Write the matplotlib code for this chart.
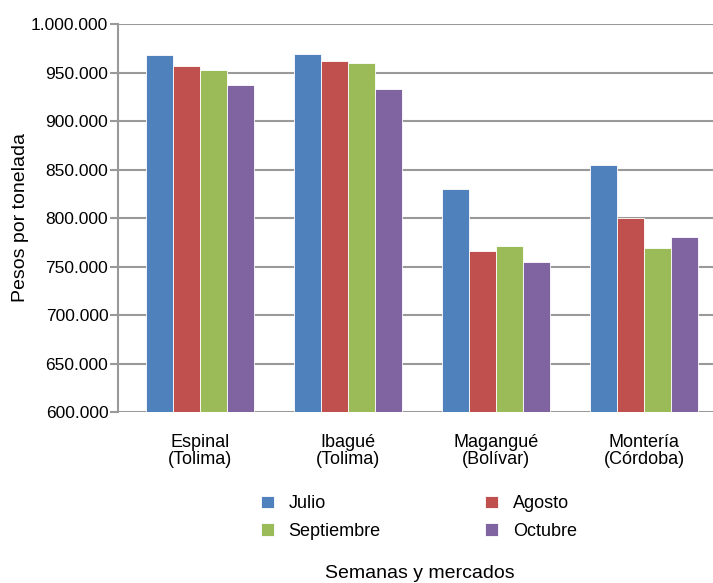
import matplotlib.pyplot as plt
import numpy as np

plt.rcParams['font.family'] = ['Liberation Sans', 'DejaVu Sans']

mercados = ["Espinal\n(Tolima)", "Ibagué\n(Tolima)", "Magangué\n(Bolívar)", "Montería\n(Córdoba)"]
meses = ["Julio", "Agosto", "Septiembre", "Octubre"]
julio = [968000, 969000, 830000, 855000]
agosto = [957000, 962000, 766000, 800000]
septiembre = [953000, 960000, 771000, 769000]
octubre = [937000, 933000, 755000, 780000]
yticks = [600000, 650000, 700000, 750000, 800000, 850000, 900000, 950000, 1000000]

colores = ["#4F81BD", "#C0504D", "#9BBB59", "#8064A2"]
series = [julio, agosto, septiembre, octubre]

fig = plt.figure(figsize=(7.13, 5.83), dpi=100)
ax = fig.add_axes([118 / 713, 171 / 583, 600 / 713, 388 / 583])

x = np.arange(len(mercados))
w = 0.181
barras = []
for i, (vals, mes, c) in enumerate(zip(series, meses, colores)):
    b = ax.bar(x + (i - 1.5) * w, vals, w, color=c, label=mes,
               edgecolor="white", linewidth=0.6, zorder=3)
    barras.append(b)

ax.set_ylim(600000, 1000000)
ax.set_xlim(-0.554, 3.5)
ax.set_yticks(yticks)
ax.set_yticklabels([f"{v:,}".replace(",", ".") for v in yticks], fontsize=12.5)
ax.set_xticks(x)
ax.set_xticklabels(mercados, fontsize=13, linespacing=1.0)
ax.tick_params(axis="x", length=0, pad=16)
ax.tick_params(axis="y", length=6, width=1.5, color="#999999", pad=1)
ax.yaxis.grid(True, color="#999999", linewidth=1.5, zorder=0)
for s in ["top", "right", "bottom"]:
    ax.spines[s].set_visible(False)
ax.spines["left"].set_color("#999999")
ax.spines["left"].set_linewidth(1.5)
ax.set_ylabel("Pesos por tonelada", fontsize=14)
ax.yaxis.set_label_coords(-89 / 600, 0.5)

# legend filled row by row: Julio, Agosto / Septiembre, Octubre
orden = [0, 2, 1, 3]
fig.legend([barras[i] for i in orden], [meses[i] for i in orden],
           loc="center", bbox_to_anchor=(419 / 713, 0.112), ncol=2, frameon=False,
           fontsize=13, handlelength=0.72, handleheight=0.72, handletextpad=0.8,
           columnspacing=5.8, labelspacing=0.6)
fig.text(420 / 713, 0.017, "Semanas y mercados", ha="center", va="center", fontsize=14)

fig.savefig("out.png", dpi=100)
